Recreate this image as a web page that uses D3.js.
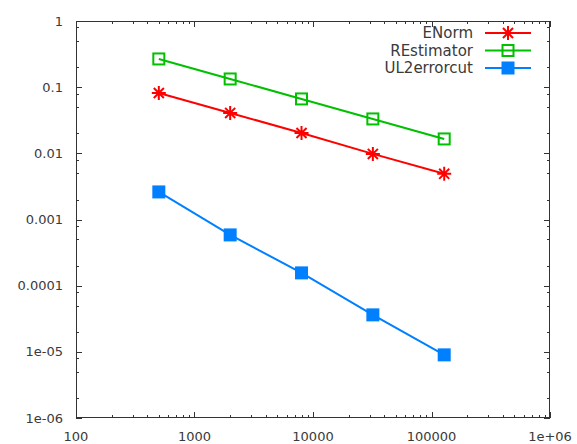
<!DOCTYPE html>
<html><head><meta charset="utf-8">
<script src="https://cdn.jsdelivr.net/npm/d3@7"></script>
<style>body{margin:0;background:#fff}svg{display:block}text{font-family:"DejaVu Sans",sans-serif;font-size:13px;fill:#3a3a3a}text.leg{font-size:15px}</style>
</head><body><svg id="c" width="577" height="444"></svg>
<script>
const xValues = [500, 2000, 8000, 32000, 128000];
const seriesNames = ["ENorm", "REstimator", "UL2errorcut"];
const eNorm = [0.0817, 0.0408, 0.0203, 0.0098, 0.0049];
const rEstimator = [0.267, 0.133, 0.0664, 0.0331, 0.0165];
const ul2errorcut = [0.00261, 0.000585, 0.000156, 0.0000362, 0.0000090];
const xTickLabels = ["100", "1000", "10000", "100000", "1e+06"];
const yTickLabels = ["1e-06", "1e-05", "0.0001", "0.001", "0.01", "0.1", "1"];
const xTickValues = [1e2, 1e3, 1e4, 1e5, 1e6];
const yTickValues = [1e-6, 1e-5, 1e-4, 1e-3, 1e-2, 1e-1, 1];

const series = [
  {name: seriesNames[0], values: eNorm, color: "#ff0000", marker: "star"},
  {name: seriesNames[1], values: rEstimator, color: "#00c000", marker: "open"},
  {name: seriesNames[2], values: ul2errorcut, color: "#0080ff", marker: "filled"}
];

const L = 76, R = 550, T = 21, B = 418;
const svg = d3.select("#c");
const x = d3.scaleLog().domain([1e2, 1e6]).range([L, R]);
const y = d3.scaleLog().domain([1e-6, 1]).range([B, T]);

// minor ticks
const g = svg.append("g").attr("stroke", "#333").attr("stroke-width", 1);
const xMinor = [];
for (let d = 2; d < 6; d++) for (let m = 2; m <= 9; m++) xMinor.push(m * Math.pow(10, d));
const yMinor = [];
for (let d = -6; d < 0; d++) for (const m of [2, 5, 8]) yMinor.push(m * Math.pow(10, d));
xMinor.forEach(v => {
  const px = Math.round(x(v)) + 0.5;
  g.append("line").attr("x1", px).attr("x2", px).attr("y1", B).attr("y2", B - 3);
  g.append("line").attr("x1", px).attr("x2", px).attr("y1", T).attr("y2", T + 3);
});
yMinor.forEach(v => {
  const py = Math.round(y(v)) + 0.5;
  g.append("line").attr("x1", L).attr("x2", L + 3).attr("y1", py).attr("y2", py);
  g.append("line").attr("x1", R).attr("x2", R - 3).attr("y1", py).attr("y2", py);
});
xTickValues.forEach((v, i) => {
  const px = Math.round(x(v)) + 0.5;
  g.append("line").attr("x1", px).attr("x2", px).attr("y1", B).attr("y2", B - 6);
  g.append("line").attr("x1", px).attr("x2", px).attr("y1", T).attr("y2", T + 6);
  svg.append("text").attr("x", x(v)).attr("y", 441).attr("text-anchor", "middle").text(xTickLabels[i]);
});
yTickValues.forEach((v, i) => {
  const py = Math.round(y(v)) + 0.5;
  g.append("line").attr("x1", L).attr("x2", L + 6).attr("y1", py).attr("y2", py);
  g.append("line").attr("x1", R).attr("x2", R - 6).attr("y1", py).attr("y2", py);
  svg.append("text").attr("x", 63).attr("y", y(v)).attr("dy", "0.35em").attr("text-anchor", "end").text(yTickLabels[i]);
});
svg.append("rect").attr("x", L + 0.5).attr("y", T + 0.5).attr("width", R - L - 1).attr("height", B - T - 1)
  .attr("fill", "none").attr("stroke", "#333").attr("stroke-width", 1);

function drawMarker(sel, type, color, cx, cy) {
  if (type === "star") {
    const r = 7, d = r * 0.72;
    const p = `M${cx-r},${cy}L${cx+r},${cy}M${cx},${cy-r}L${cx},${cy+r}M${cx-d},${cy-d}L${cx+d},${cy+d}M${cx-d},${cy+d}L${cx+d},${cy-d}`;
    sel.append("path").attr("d", p).attr("stroke", color).attr("stroke-width", 2).attr("fill", "none");
  } else if (type === "open") {
    sel.append("rect").attr("x", cx - 5.5).attr("y", cy - 5.5).attr("width", 11).attr("height", 11)
      .attr("fill", "none").attr("stroke", color).attr("stroke-width", 2);
  } else {
    sel.append("rect").attr("x", cx - 6.5).attr("y", cy - 6.5).attr("width", 13).attr("height", 13)
      .attr("fill", color);
  }
}

const line = d3.line().x(d => x(d[0])).y(d => y(d[1]));
series.forEach(s => {
  const pts = xValues.map((xv, i) => [xv, s.values[i]]);
  const sg = svg.append("g");
  sg.append("path").attr("d", line(pts)).attr("fill", "none").attr("stroke", s.color).attr("stroke-width", 2);
  pts.forEach(p => drawMarker(sg, s.marker, s.color, x(p[0]), y(p[1])));
});

// legend
series.forEach((s, i) => {
  const ly = 33 + i * 17.5;
  svg.append("text").attr("class", "leg").attr("x", 473).attr("y", ly).attr("dy", "0.35em").attr("text-anchor", "end").text(s.name);
  svg.append("line").attr("x1", 485).attr("x2", 531).attr("y1", ly).attr("y2", ly).attr("stroke", s.color).attr("stroke-width", 2);
  drawMarker(svg, s.marker, s.color, 508, ly);
});
</script></body></html>
